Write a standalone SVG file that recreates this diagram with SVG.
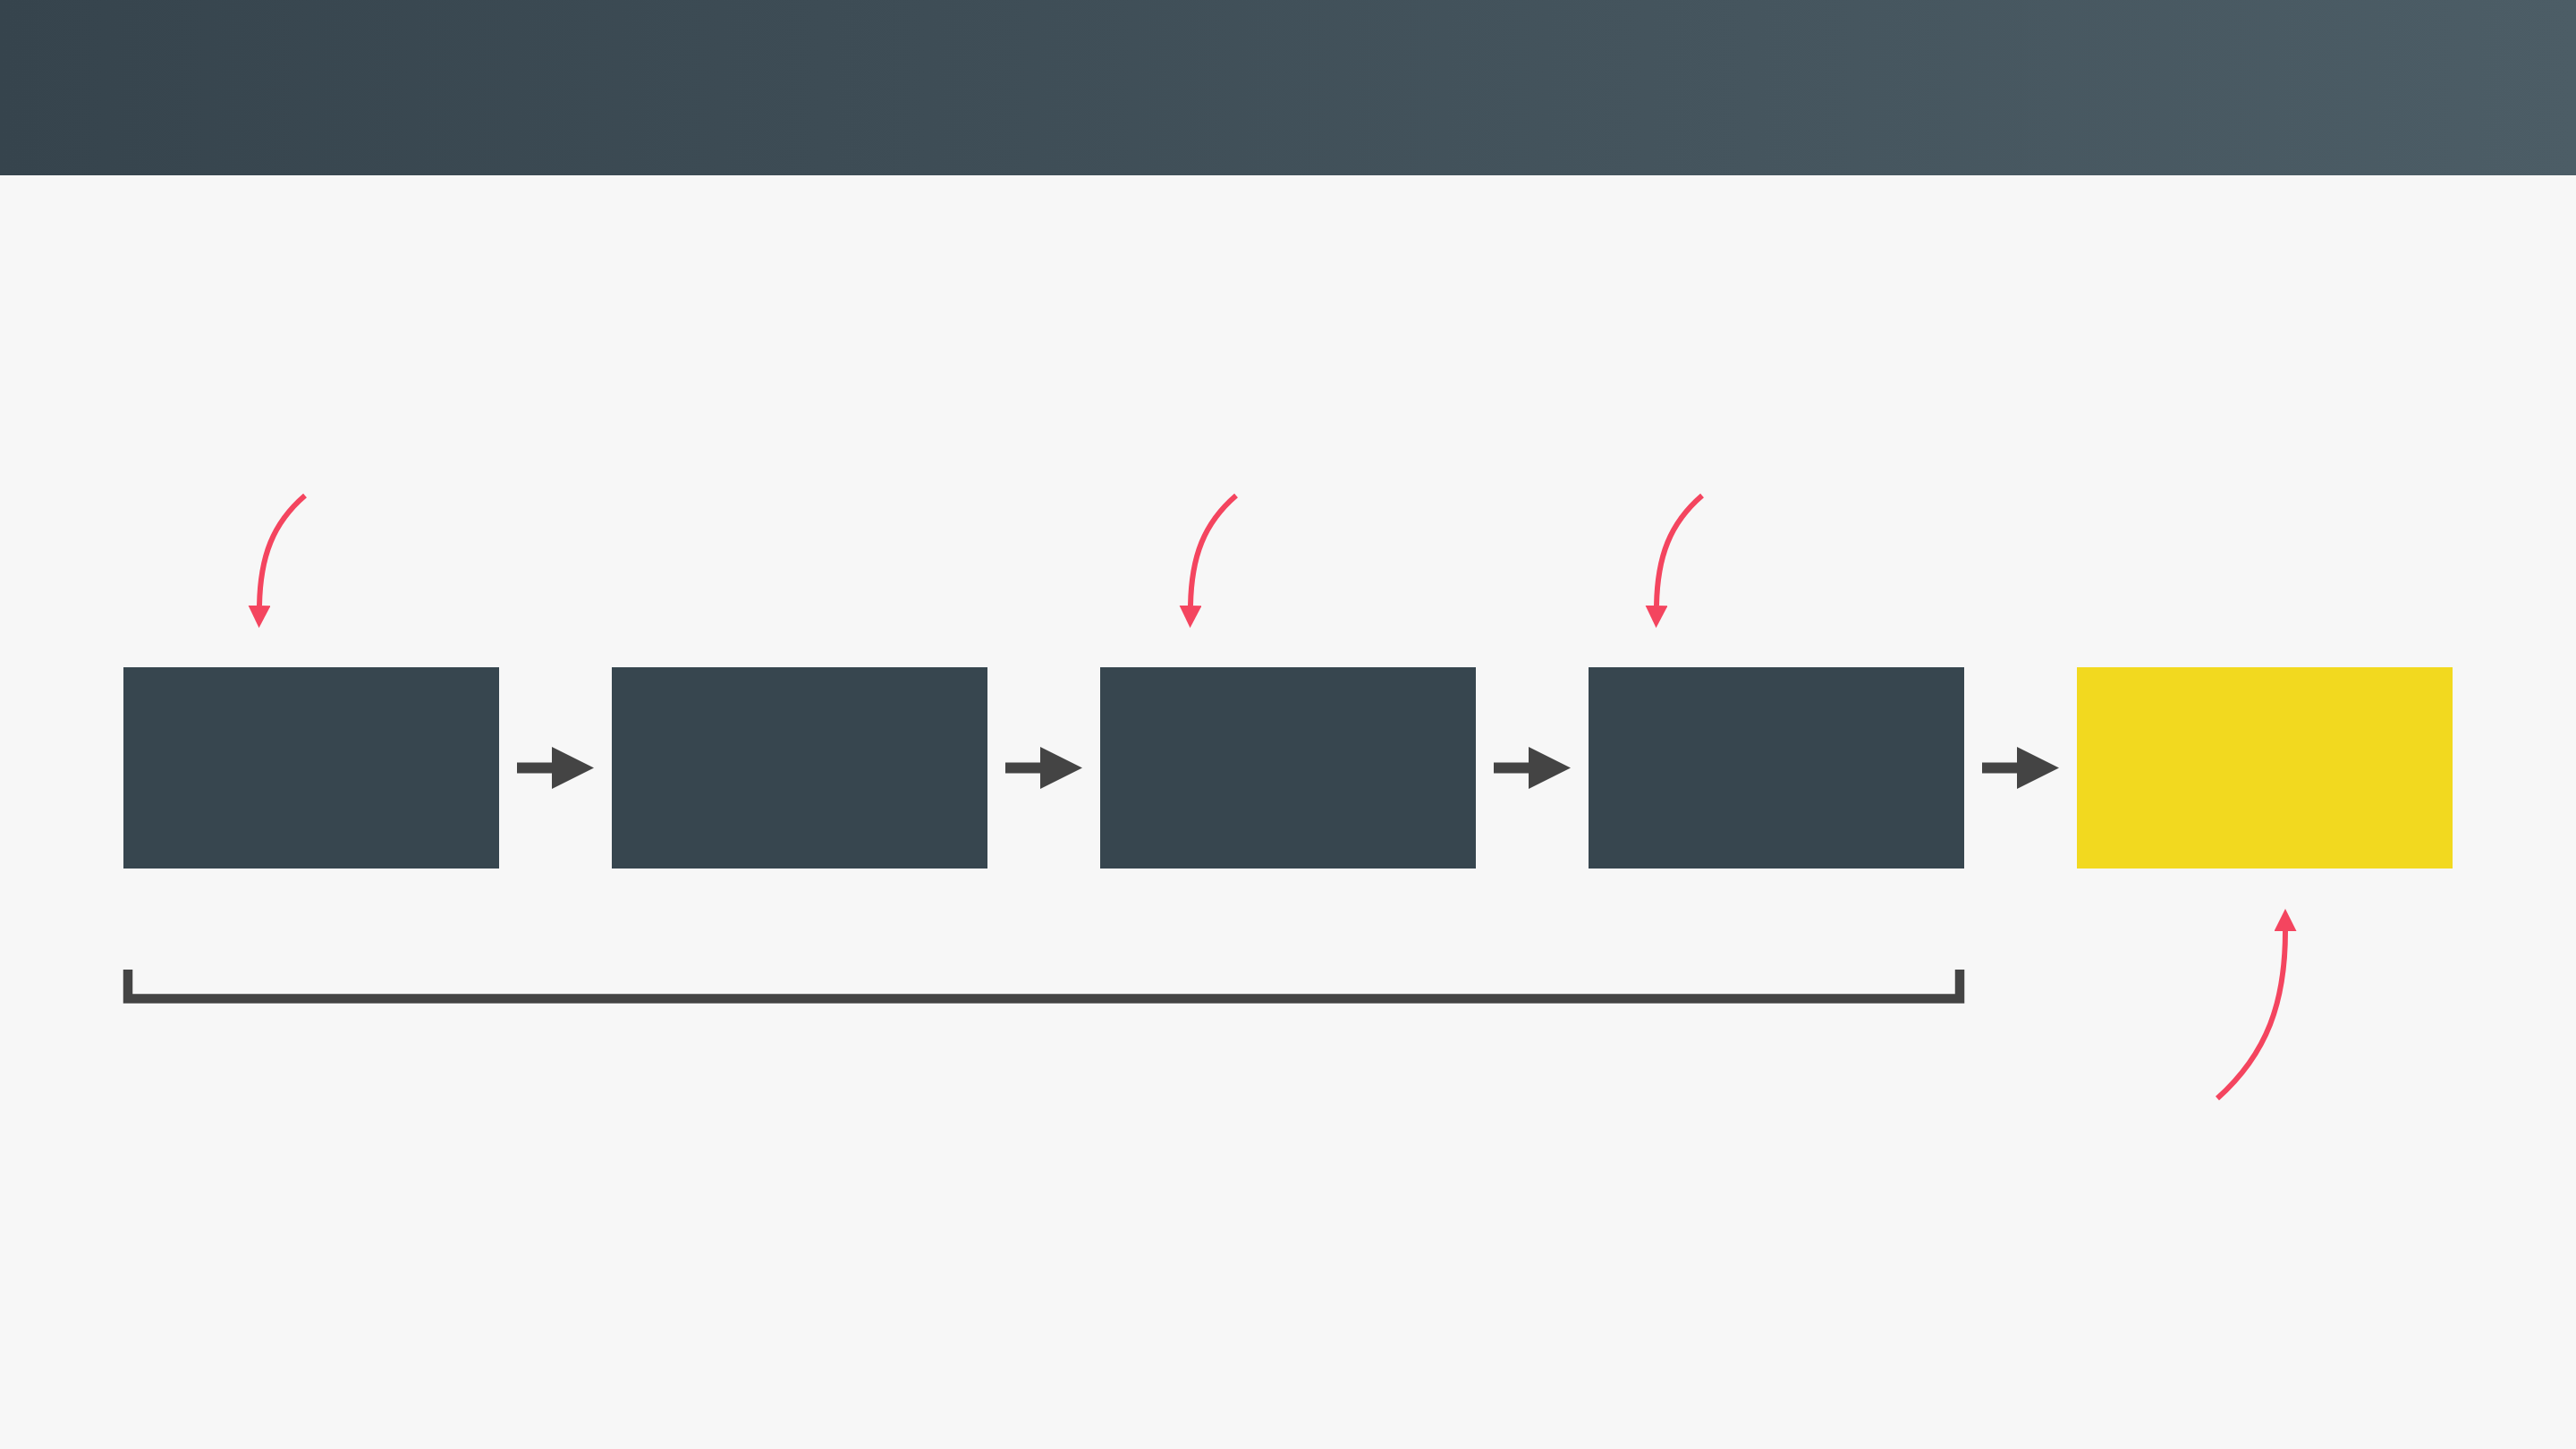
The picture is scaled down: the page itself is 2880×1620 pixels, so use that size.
<svg xmlns="http://www.w3.org/2000/svg" width="2880" height="1620" viewBox="0 0 2880 1620">
  <defs>
    <linearGradient id="hdr" x1="0" y1="0" x2="1" y2="0">
      <stop offset="0" stop-color="#36444d"/>
      <stop offset="1" stop-color="#4c5d66"/>
    </linearGradient>
    <marker id="redHead" viewBox="0 0 10 10" refX="0" refY="5" markerWidth="25" markerHeight="25" markerUnits="userSpaceOnUse" orient="auto">
      <path d="M0,0 L10,5 L0,10 Z" fill="#f4455f"/>
    </marker>
  </defs>
  <style>
    .box { fill: #37464f; }
    .final { fill: #f2d91f; }
    .flow { fill: #444444; }
    .note { fill: none; stroke: #f4455f; stroke-width: 6; marker-end: url(#redHead); }
    .bracket { fill: none; stroke: #444444; stroke-width: 10.5; stroke-linejoin: miter; }
  </style>
  <rect x="0" y="0" width="2880" height="1620" fill="#f7f7f7"/>
  <rect x="0" y="0" width="2880" height="196" fill="url(#hdr)"/>

  <g id="node1"><rect class="box" x="138" y="746" width="420" height="225"/></g>
  <g id="node2"><rect class="box" x="684" y="746" width="420" height="225"/></g>
  <g id="node3"><rect class="box" x="1230" y="746" width="420" height="225"/></g>
  <g id="node4"><rect class="box" x="1776" y="746" width="420" height="225"/></g>
  <g id="node5"><rect class="final" x="2322" y="746" width="420" height="225"/></g>

  <g id="connectors">
    <path class="flow" d="M578,852.5 H617 V835 L664,858.5 L617,882 V864.5 H578 Z"/>
    <path class="flow" d="M1124,852.5 H1163 V835 L1210,858.5 L1163,882 V864.5 H1124 Z"/>
    <path class="flow" d="M1670,852.5 H1709 V835 L1756,858.5 L1709,882 V864.5 H1670 Z"/>
    <path class="flow" d="M2216,852.5 H2255 V835 L2302,858.5 L2255,882 V864.5 H2216 Z"/>

    <path class="note" d="M341,554 C305,585 291,622 290,677"/>
    <path class="note" d="M1382,554 C1346,585 1332,622 1331,677"/>
    <path class="note" d="M1903,554 C1867,585 1853,622 1852,677"/>
    <path class="note" d="M2479,1228 C2535,1178 2555,1120 2555,1041"/>

    <path class="bracket" d="M143,1084 V1116.5 H2191 V1084"/>
  </g>
</svg>
